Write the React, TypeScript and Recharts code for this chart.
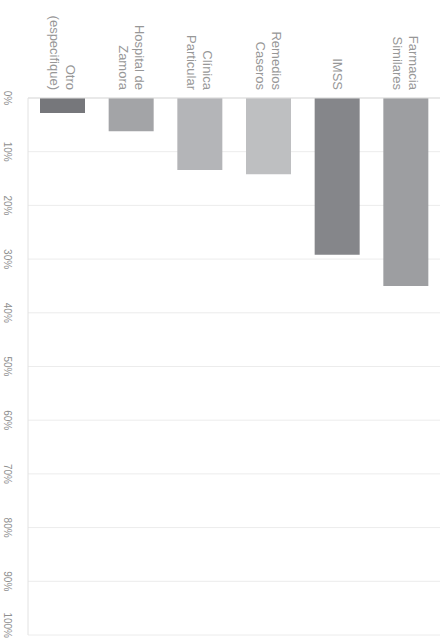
import React from "react";
import { BarChart, Bar, XAxis, YAxis, CartesianGrid, Cell } from "recharts";

const categories = [
  "Otro (especifique)",
  "Hospital de Zamora",
  "Clínica Particular",
  "Remedios Caseros",
  "IMSS",
  "Farmacia Similares",
];
const labelLines = [
  ["Otro", "(especifique)"],
  ["Hospital de", "Zamora"],
  ["Clínica", "Particular"],
  ["Remedios", "Caseros"],
  ["IMSS"],
  ["Farmacia", "Similares"],
];
const shares = [0.028, 0.062, 0.134, 0.142, 0.292, 0.35];
const barColors = ["#76777b", "#a3a4a7", "#b4b5b8", "#bebfc1", "#85868a", "#9d9ea1"];
const percentTicks = [0, 0.1, 0.2, 0.3, 0.4, 0.5, 0.6, 0.7, 0.8, 0.9, 1];

const data = categories.map((name, i) => ({ name, value: shares[i] }));

const CategoryTick = (props: any) => {
  const { x, payload } = props;
  const idx = categories.indexOf(payload.value);
  const lines = labelLines[idx] || [payload.value];
  const n = lines.length;
  return (
    <g>
      {lines.map((line: string, i: number) => {
        const lx = x + ((n - 1) / 2 - i) * 16;
        const ly = 90;
        return (
          <text
            key={i}
            x={lx}
            y={ly}
            transform={`rotate(90, ${lx}, ${ly})`}
            textAnchor="end"
            dominantBaseline="central"
            fontSize={13}
            fill="#979797"
          >
            {line}
          </text>
        );
      })}
    </g>
  );
};

const PercentTick = (props: any) => {
  const { y, payload } = props;
  const lx = 7;
  const last = payload.value >= 1;
  const ly = last ? 638 : y;
  return (
    <text
      x={lx}
      y={ly}
      transform={`rotate(90, ${lx}, ${ly})`}
      textAnchor={last ? "end" : "middle"}
      dominantBaseline="central"
      fontSize={10}
      fill="#8f8f8f"
    >
      {`${Math.round(payload.value * 100)}%`}
    </text>
  );
};

export default function App() {
  return (
    <div
      style={{
        position: "absolute",
        left: 0,
        top: 0,
        width: 447,
        height: 640,
        background: "#ffffff",
        fontFamily: "'Liberation Sans', Arial, sans-serif",
      }}
    >
      <BarChart
        width={447}
        height={640}
        data={data}
        margin={{ top: 0, right: 7, bottom: 5, left: 0 }}
      >
        <CartesianGrid vertical={false} stroke="#ececec" />
        <XAxis
          dataKey="name"
          orientation="top"
          height={98}
          axisLine={{ stroke: "#dddddd" }}
          tickLine={false}
          tick={<CategoryTick />}
          interval={0}
        />
        <YAxis
          type="number"
          domain={[0, 1]}
          reversed
          ticks={percentTicks}
          width={28}
          axisLine={{ stroke: "#e2e2e2" }}
          tickLine={false}
          tick={<PercentTick />}
          interval={0}
        />
        <Bar dataKey="value" barSize={45} isAnimationActive={false}>
          {data.map((d, i) => (
            <Cell key={d.name} fill={barColors[i]} />
          ))}
        </Bar>
      </BarChart>
    </div>
  );
}
